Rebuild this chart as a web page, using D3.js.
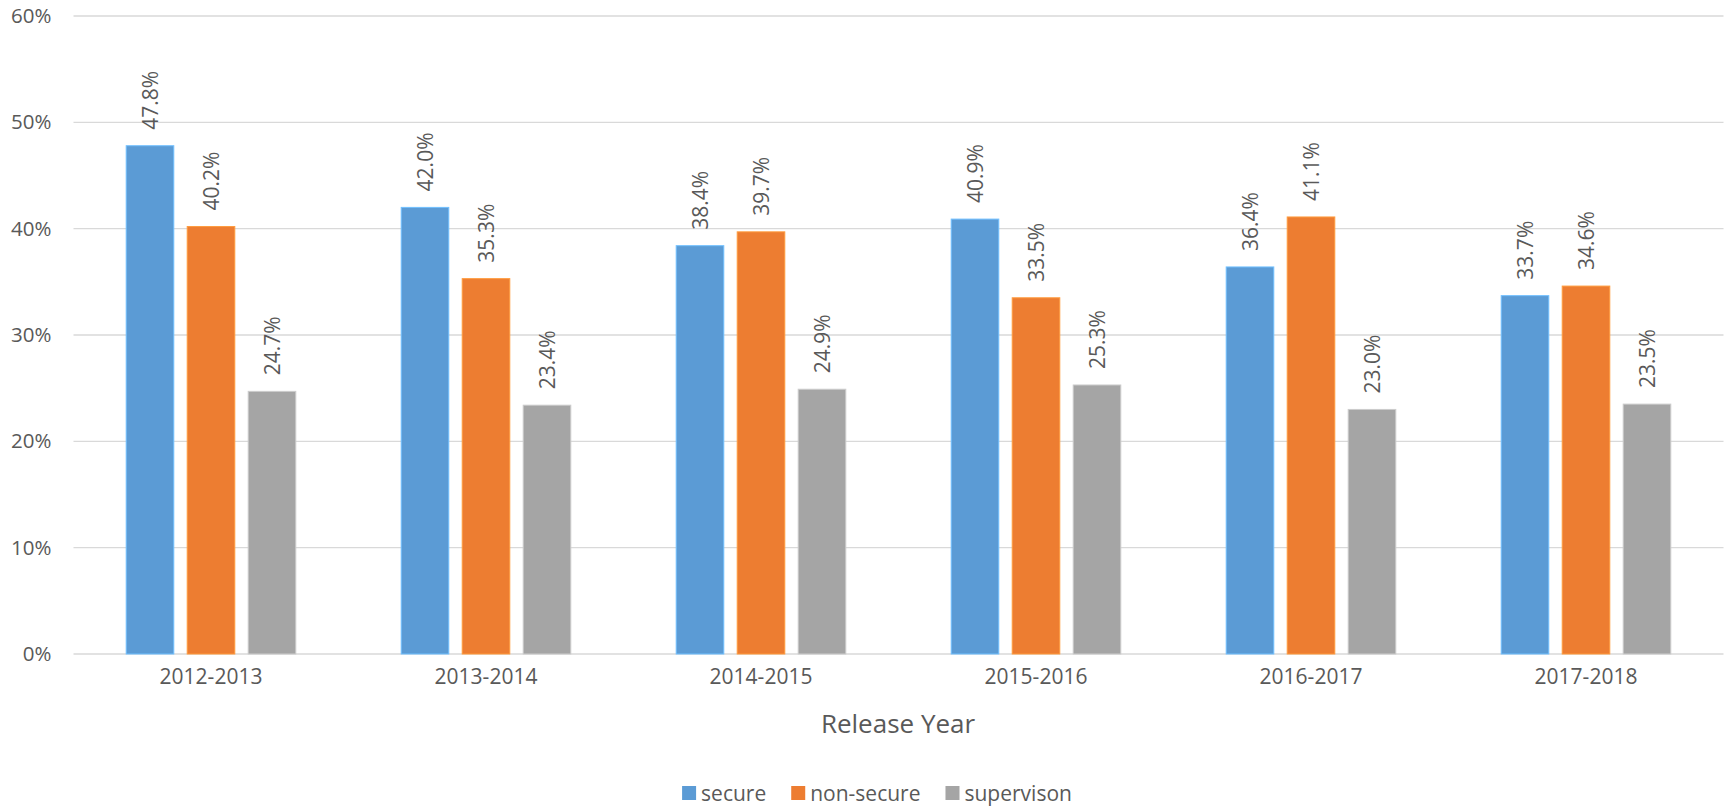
<!DOCTYPE html>
<html>
<head>
<meta charset="utf-8">
<script src="https://cdn.jsdelivr.net/npm/d3@7"></script>
<style>
  html, body { margin: 0; padding: 0; background: #fff; }
  svg { display: block; }
  text { fill: #595959; font-family: "Open Sans", "Noto Sans", sans-serif; }
</style>
</head>
<body>
<svg id="chart" width="1729" height="806"></svg>
<script>
const categories = ["2012-2013", "2013-2014", "2014-2015", "2015-2016", "2016-2017", "2017-2018"];
const seriesNames = ["secure", "non-secure", "supervison"];
const secure = [47.8, 42.0, 38.4, 40.9, 36.4, 33.7];
const nonSecure = [40.2, 35.3, 39.7, 33.5, 41.1, 34.6];
const supervison = [24.7, 23.4, 24.9, 25.3, 23.0, 23.5];
const yTicks = [0, 10, 20, 30, 40, 50, 60];
const colors = ["#5B9BD5", "#ED7D31", "#A5A5A5"];
const axisTitle = "Release Year";

const seriesValues = [secure, nonSecure, supervison];

const svg = d3.select("#chart");
const plotLeft = 73.5, plotRight = 1723.5, plotTop = 16, plotBottom = 654;

const x0 = d3.scaleBand().domain(categories).range([plotLeft, plotRight]).paddingInner(0).paddingOuter(0);
const x1 = d3.scaleBand().domain(seriesNames).range([0, x0.bandwidth()]).paddingInner(0.22).paddingOuter(0.864);
const y = d3.scaleLinear().domain([0, 60]).range([plotBottom, plotTop]);

// gridlines
svg.append("g")
  .selectAll("line")
  .data(yTicks)
  .join("line")
  .attr("x1", plotLeft).attr("x2", plotRight)
  .attr("y1", d => y(d)).attr("y2", d => y(d))
  .attr("stroke", "#D9D9D9").attr("stroke-width", 1.3);

// y axis labels
const yAxis = d3.axisLeft(y).tickValues(yTicks).tickFormat(d => d + "%").tickSize(0).tickPadding(22);
const yg = svg.append("g").attr("transform", `translate(${plotLeft},0)`).call(yAxis);
yg.select(".domain").remove();
yg.selectAll("text").attr("font-size", 20.5).attr("fill", "#595959")
  .attr("font-family", "'Open Sans', sans-serif");

// x axis labels
const xAxis = d3.axisBottom(x0).tickSize(0).tickPadding(15);
const xg = svg.append("g").attr("transform", `translate(0,${plotBottom})`).call(xAxis);
xg.select(".domain").remove();
xg.selectAll("text").attr("font-size", 21).attr("fill", "#595959")
  .attr("font-family", "'Open Sans', sans-serif");

// bars
const rows = categories.map((c, i) => ({ cat: c, vals: seriesNames.map((s, j) => ({ s, j, v: seriesValues[j][i] })) }));

const groups = svg.append("g").selectAll("g")
  .data(rows).join("g")
  .attr("transform", d => `translate(${x0(d.cat)},0)`);

groups.selectAll("rect")
  .data(d => d.vals).join("rect")
  .attr("x", d => x1(d.s))
  .attr("width", x1.bandwidth())
  .attr("y", d => y(d.v))
  .attr("height", d => y(0) - y(d.v))
  .attr("fill", d => colors[d.j])
  .attr("stroke", d => d3.color(colors[d.j]).brighter(0.6))
  .attr("stroke-width", 1);

// value labels, rotated
groups.selectAll("text.val")
  .data(d => d.vals).join("text")
  .attr("class", "val")
  .attr("transform", d => `translate(${x1(d.s) + x1.bandwidth() / 2},${y(d.v) - 16}) rotate(-90)`)
  .attr("text-anchor", "start")
  .attr("dominant-baseline", "central")
  .attr("font-size", 21)
  .text(d => d.v.toFixed(1) + "%");

// axis title
svg.append("text")
  .attr("x", 898).attr("y", 733)
  .attr("text-anchor", "middle")
  .attr("font-size", 26)
  .attr("font-family", "'DejaVu Sans Condensed', 'DejaVu Sans', sans-serif")
  .text(axisTitle);

// legend
const legend = svg.append("g").attr("transform", "translate(0,793)");
const items = legend.selectAll("g").data(seriesNames).join("g");
items.append("rect").attr("width", 14).attr("height", 14).attr("y", -7)
  .attr("fill", (d, i) => colors[i]);
items.append("text").attr("x", 19).attr("y", 0)
  .attr("dominant-baseline", "central")
  .attr("font-size", 21)
  .attr("font-family", "'DejaVu Sans Condensed', 'DejaVu Sans', sans-serif")
  .text(d => d);
const gap = 25;
let widths = [];
items.each(function () { widths.push(this.getBBox().width); });
const total = d3.sum(widths) + gap * (widths.length - 1);
let cx = 877 - total / 2;
items.attr("transform", (d, i) => {
  const t = `translate(${cx},0)`;
  cx += widths[i] + gap;
  return t;
});
</script>
</body>
</html>
